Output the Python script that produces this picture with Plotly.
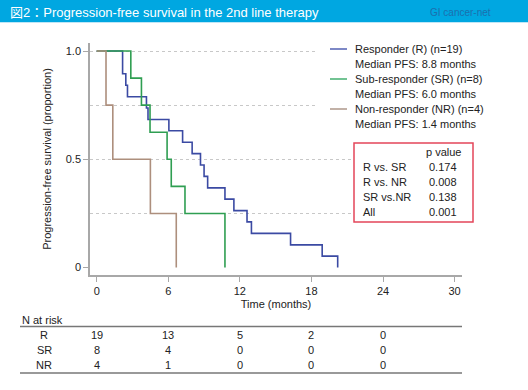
import plotly.graph_objects as go

# ---------------- data ----------------
r_times = [0, 2.17, 2.44, 2.58, 4.17, 4.3, 6.05, 7.2, 8.0, 8.7, 9.0, 9.3, 10.75, 11.5, 12.6, 12.97, 16.25, 18.9, 20.2]
r_surv = [1.0, 0.895, 0.842, 0.789, 0.737, 0.684, 0.632, 0.579, 0.526, 0.474, 0.421, 0.368, 0.316, 0.263, 0.211, 0.158, 0.105, 0.053, 0.0]
sr_times = [0, 2.86, 3.75, 4.47, 5.9, 6.25, 7.4, 10.75]
sr_surv = [1.0, 0.875, 0.75, 0.625, 0.5, 0.375, 0.25, 0.0]
nr_times = [0, 0.78, 1.35, 4.5, 6.67]
nr_surv = [1.0, 0.75, 0.5, 0.25, 0.0]

series_names = ["Responder (R) (n=19)", "Sub-responder (SR) (n=8)", "Non-responder (NR) (n=4)"]
series_medians = ["Median PFS: 8.8 months", "Median PFS: 6.0 months", "Median PFS: 1.4 months"]
series_colors = ["#3b4aa3", "#2f9e52", "#ad8f7d"]
legend_swatch_colors = ["#7d88c6", "#72c393", "#c2b1a7"]

x_ticks = [0, 6, 12, 18, 24, 30]
y_ticks = [0, 0.5, 1.0]
y_ticktext = ["0", "0.5", "1.0"]
grid_vals = [0.25, 0.5, 0.75, 1.0]

risk_times = [0, 6, 12, 18, 24]
risk_groups = ["R", "SR", "NR"]
risk_R = [19, 13, 5, 2, 0]
risk_SR = [8, 4, 0, 0, 0]
risk_NR = [4, 1, 0, 0, 0]

p_labels = ["R vs. SR", "R vs. NR", "SR vs.NR", "All"]
p_values = ["0.174", "0.008", "0.138", "0.001"]

title_text = "図2：Progression-free survival in the 2nd line therapy"

# ---------------- layout helpers ----------------
W, H = 528, 390
PL, PR, PT, PB = 90, 462, 43, 275  # plot area in pixels
FONT = "Liberation Sans, Arial, Noto Sans CJK JP, sans-serif"
TXT = "#222222"


def px(x):
    return (x - PL) / (PR - PL)


def py(y):
    return (PB - y) / (PB - PT)


fig = go.Figure()
for t, s, name, col in [(r_times, r_surv, series_names[0], series_colors[0]),
                        (sr_times, sr_surv, series_names[1], series_colors[1]),
                        (nr_times, nr_surv, series_names[2], series_colors[2])]:
    fig.add_trace(go.Scatter(x=t, y=s, mode="lines", line=dict(shape="hv", color=col, width=1.6),
                             name=name, hoverinfo="skip", showlegend=False))

shapes = []
annotations = []


def text(x, y, s, anchor="left", size=11, color=TXT, xref="paper"):
    annotations.append(dict(xref=xref, yref="paper", x=x if xref != "paper" else px(x), y=py(y), text=s,
                            showarrow=False, xanchor=anchor, yanchor="middle",
                            font=dict(family=FONT, size=size, color=color)))


# title bar
shapes.append(dict(type="rect", xref="paper", yref="paper", x0=px(0), x1=px(W), y0=py(22), y1=py(0),
                   fillcolor="#00a7e1", line=dict(width=0), layer="above"))
shapes.append(dict(type="line", xref="paper", yref="paper", x0=px(0), x1=px(W), y0=py(22.5), y1=py(22.5),
                   line=dict(color="#bfe6f6", width=1), layer="above"))
text(8, 12, title_text, size=13, color="white")
text(493, 13, "GI cancer-net", anchor="right", size=10, color="#1c6fae")

# legend (white panel hides the grid behind it)
shapes.append(dict(type="rect", xref="paper", yref="paper", x0=px(317), x1=px(484), y0=py(132), y1=py(40),
                   fillcolor="white", line=dict(width=0), layer="above"))
for i, (nm, med, sc) in enumerate(zip(series_names, series_medians, legend_swatch_colors)):
    y_first = 49 + 30 * i
    shapes.append(dict(type="line", xref="paper", yref="paper", x0=px(330), x1=px(347),
                       y0=py(y_first), y1=py(y_first), line=dict(color=sc, width=2), layer="above"))
    text(353, y_first, nm)
    text(353, y_first + 15, med)

# p-value box
shapes.append(dict(type="rect", xref="paper", yref="paper", x0=px(354), x1=px(473), y0=py(222), y1=py(143),
                   fillcolor="white", line=dict(color="#e4465a", width=1.5), layer="above"))
text(443, 152, "p value", anchor="center")
for i, (lab, val) in enumerate(zip(p_labels, p_values)):
    yy = 167 + 15 * i
    text(361, yy, lab)
    text(443, yy, val, anchor="center")

# risk table
text(20, 320, "N at risk")
shapes.append(dict(type="line", xref="paper", yref="paper", x0=px(20), x1=px(462), y0=py(326.5), y1=py(326.5),
                   line=dict(color="#777777", width=1.5)))
shapes.append(dict(type="line", xref="paper", yref="paper", x0=px(20), x1=px(462), y0=py(373), y1=py(373),
                   line=dict(color="#777777", width=1.5)))
for g, counts, yy in zip(risk_groups, [risk_R, risk_SR, risk_NR], [335, 350, 364.5]):
    text(44, yy, g, anchor="center")
    for t, c in zip(risk_times, counts):
        text(t, yy, str(c), anchor="center", xref="x")

x0_px = 96.7
ppm = 11.93
y1_px, y0_px = 51, 267.6

fig.update_layout(
    width=W, height=H,
    margin=dict(l=PL, r=W - PR, t=PT, b=H - PB, pad=0),
    paper_bgcolor="white", plot_bgcolor="white",
    font=dict(family=FONT, size=11, color=TXT),
    showlegend=False,
    xaxis=dict(range=[(PL - x0_px) / ppm, (PR - x0_px) / ppm], tickvals=x_ticks, showgrid=False,
               zeroline=False, showline=True, linecolor="#a8a8a8", linewidth=1.5,
               ticks="outside", ticklen=5, tickcolor="#a8a8a8", tickfont=dict(size=11, color=TXT),
               title=dict(text="Time (months)", font=dict(size=11, color=TXT), standoff=4)),
    yaxis=dict(range=[(y0_px - PB) / (y0_px - y1_px), (y0_px - PT) / (y0_px - y1_px)],
               tickvals=y_ticks, ticktext=y_ticktext, showgrid=False, zeroline=False,
               showline=True, linecolor="#a8a8a8", linewidth=1.5,
               ticks="outside", ticklen=5, tickcolor="#a8a8a8", tickfont=dict(size=11, color=TXT),
               minor=dict(tickvals=grid_vals, showgrid=True, gridcolor="#c8c8c8", griddash="dot",
                          gridwidth=1, ticklen=0),
               title=dict(text="Progression-free survival (proportion)", font=dict(size=11, color=TXT),
                          standoff=12)),
    shapes=shapes,
    annotations=annotations,
)

fig.write_html("out.html", config={"displayModeBar": False},
               post_script="document.body.style.margin='0';")
